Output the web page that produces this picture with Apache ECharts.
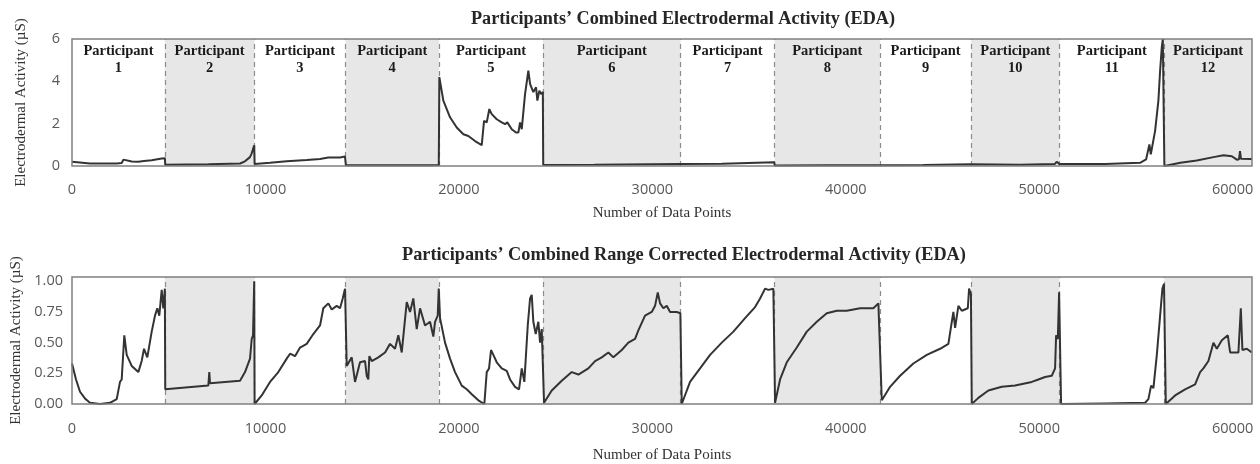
<!DOCTYPE html>
<html><head><meta charset="utf-8">
<script src="https://cdn.jsdelivr.net/npm/echarts@6/dist/echarts.min.js"></script>
<style>html,body{margin:0;padding:0;background:#fff}#c{width:1260px;height:464px}</style>
</head><body><div id="c"></div>
<script>
// ---------- DATA ----------
const boundaries = [0, 4800, 9430, 14140, 18970, 24350, 31460, 36320, 41770, 46480, 51050, 56460, 61000];
const participantLabels = ['1','2','3','4','5','6','7','8','9','10','11','12'];
const xTicks = [0, 10000, 20000, 30000, 40000, 50000, 60000];
const topYTicks = [0, 2, 4, 6];
const bottomYTicks = [0, 0.25, 0.5, 0.75, 1];
const topTitle = 'Participants\u2019 Combined Electrodermal Activity (EDA)';
const bottomTitle = 'Participants\u2019 Combined Range Corrected Electrodermal Activity (EDA)';
const xName = 'Number of Data Points';
const yName = 'Electrodermal Activity (\u00b5S)';

// Raw EDA (top chart), [data point index, µS]
const topP1 = [[0,0.2],[930,0.12],[2310,0.12],[2570,0.14],[2660,0.3],[2760,0.24],[3090,0.21],[3430,0.2],[3720,0.24],[4120,0.27],[4640,0.35],[4800,0.37]];
const topP2 = [[4820,0.06],[7050,0.08],[7100,0.15],[7140,0.09],[8690,0.12],[8940,0.22],[9200,0.42],[9290,0.6],[9360,0.65],[9420,0.98]];
const topP3 = [[9440,0.1],[10240,0.15],[11100,0.22],[12130,0.28],[12820,0.33],[13250,0.4],[13860,0.4],[14110,0.45]];
const topP4 = [[14160,0.04],[15500,0.03],[17000,0.04],[18500,0.04],[18960,0.05]];
const topP5 = [[18990,4.2],[19196,3.09],[19543,2.3],[19889,1.82],[20230,1.5],[20489,1.42],[20835,1.18],[21181,0.99],[21300,2.13],[21440,2.06],[21574,2.69],[21698,2.45],[21957,2.21],[22215,2.06],[22386,1.98],[22505,2.06],[22732,1.74],[22955,1.58],[23074,1.58],[23162,2.06],[23250,1.74],[23420,3.4],[23591,4.51],[23679,3.88],[23849,3.49],[23989,3.72],[24056,3.09],[24160,3.56],[24248,3.4],[24340,3.5]];
const topP6 = [[24360,0.05],[27000,0.06],[31450,0.1]];
const topP7 = [[31470,0.06],[33600,0.11],[36300,0.18]];
const topP8 = [[36330,0.02],[39000,0.03],[41760,0.04]];
const topP9 = [[41780,0.03],[44000,0.05],[46470,0.08]];
const topP10 = [[46490,0.04],[49000,0.06],[50800,0.09],[50900,0.2],[51000,0.23],[51040,0.1]];
const topP11 = [[51060,0.08],[53400,0.09],[55215,0.15],[55525,0.31],[55696,1.02],[55768,0.55],[55991,1.66],[56161,3.09],[56250,4.51],[56338,5.63],[56390,6.0],[56450,6.0]];
const topP12 = [[56470,0.0],[57300,0.15],[58146,0.26],[59006,0.42],[59523,0.51],[59957,0.46],[60215,0.3],[60330,0.32],[60380,0.7],[60430,0.34],[60903,0.33],[61000,0.33]];

// Range corrected EDA (bottom chart)
const botP1 = [[0,0.33],[207,0.2],[414,0.1],[698,0.04],[931,0.01],[1448,0.0],[1965,0.01],[2311,0.04],[2482,0.18],[2569,0.2],[2704,0.56],[2828,0.4],[3086,0.31],[3428,0.26],[3603,0.35],[3722,0.45],[3893,0.38],[4120,0.59],[4291,0.72],[4410,0.78],[4513,0.72],[4637,0.93],[4720,0.78],[4800,0.94]];
const botP2 = [[4820,0.12],[7047,0.15],[7098,0.26],[7135,0.17],[7910,0.18],[8686,0.19],[8944,0.26],[9203,0.37],[9290,0.53],[9358,0.56],[9420,1.0]];
const botP3 = [[9440,0.0],[9807,0.07],[10237,0.18],[10666,0.26],[11100,0.37],[11271,0.41],[11529,0.39],[11788,0.46],[12134,0.49],[12475,0.57],[12822,0.64],[12992,0.78],[13251,0.82],[13426,0.77],[13685,0.8],[13856,0.78],[13995,0.86],[14114,0.94]];
const botP4 = [[14202,0.31],[14460,0.38],[14631,0.18],[14890,0.34],[15148,0.35],[15236,0.23],[15318,0.2],[15370,0.39],[15494,0.35],[15836,0.38],[16182,0.42],[16441,0.49],[16699,0.45],[16870,0.56],[17046,0.42],[17304,0.83],[17475,0.75],[17645,0.86],[17821,0.61],[17992,0.78],[18250,0.64],[18509,0.67],[18679,0.55],[18767,0.67],[18906,0.72],[18960,0.94]];
const botP5 = [[19026,0.7],[19284,0.5],[19543,0.37],[19801,0.26],[20148,0.15],[20406,0.12],[20665,0.08],[21006,0.03],[21316,0.0],[21440,0.26],[21559,0.29],[21662,0.44],[21781,0.4],[21957,0.34],[22215,0.29],[22474,0.27],[22645,0.2],[22903,0.14],[23110,0.12],[23250,0.29],[23384,0.18],[23560,0.64],[23679,0.86],[23766,0.89],[23849,0.67],[23973,0.57],[24108,0.67],[24196,0.5],[24283,0.61],[24340,0.61]];
const botP6 = [[24402,0.01],[24800,0.11],[25317,0.19],[25834,0.26],[26176,0.24],[26693,0.29],[27039,0.35],[27385,0.38],[27727,0.42],[27986,0.38],[28420,0.44],[28761,0.5],[29107,0.53],[29278,0.6],[29624,0.72],[29970,0.75],[30141,0.8],[30281,0.91],[30400,0.82],[30571,0.78],[30745,0.8],[30917,0.75],[31263,0.75],[31450,0.74]];
const botP7 = [[31521,0.0],[31950,0.18],[32468,0.29],[32985,0.4],[33590,0.5],[34190,0.59],[34794,0.7],[35311,0.79],[35570,0.86],[35828,0.94],[35999,0.93],[36257,0.94]];
const botP8 = [[36345,0.01],[36604,0.2],[36950,0.34],[37467,0.46],[37984,0.59],[38501,0.67],[39018,0.74],[39535,0.76],[40052,0.76],[40740,0.78],[41427,0.78],[41686,0.82]];
const botP9 = [[41862,0.03],[42291,0.14],[42808,0.23],[43495,0.33],[44188,0.4],[44876,0.45],[45305,0.49],[45480,0.67],[45563,0.75],[45651,0.62],[45822,0.8],[45998,0.76],[46308,0.78],[46375,0.94],[46470,0.89]];
const botP10 = [[46514,0.0],[46855,0.05],[47372,0.11],[48065,0.14],[48753,0.15],[49616,0.18],[49958,0.2],[50304,0.22],[50650,0.23],[50821,0.29],[50873,0.56],[50961,0.53],[51028,0.91]];
const botP11 = [[51131,0.0],[53406,0.005],[55474,0.01],[55645,0.04],[55785,0.15],[55904,0.13],[56080,0.4],[56250,0.72],[56369,0.94],[56450,0.98]];
const botP12 = [[56544,0.0],[57025,0.07],[57542,0.12],[58059,0.16],[58318,0.26],[58488,0.29],[58747,0.35],[59006,0.5],[59182,0.45],[59440,0.52],[59750,0.56],[59869,0.42],[60298,0.42],[60422,0.78],[60505,0.44],[60732,0.45],[60991,0.42]];

const topSeries = [].concat(topP1, topP2, topP3, topP4, topP5, topP6, topP7, topP8, topP9, topP10, topP11, topP12);
const bottomSeries = [].concat(botP1, botP2, botP3, botP4, botP5, botP6, botP7, botP8, botP9, botP10, botP11, botP12);

// ---------- STYLE ----------
const SERIF = '"Liberation Serif", "Times New Roman", serif';
const SANS = '"Open Sans", "Noto Sans", sans-serif';
const SHADE = '#e7e7e7';

function areas(withLabels) {
  return {
    silent: true,
    label: withLabels ? {
      show: true, position: 'insideTop', distance: 4,
      fontFamily: SERIF, fontWeight: 'bold', fontSize: 14.5, lineHeight: 17,
      color: '#1a1a1a', align: 'center'
    } : { show: false },
    data: participantLabels.map((p, i) => [
      { xAxis: boundaries[i], name: 'Participant\n' + p,
        itemStyle: { color: i % 2 ? SHADE : 'rgba(0,0,0,0)' } },
      { xAxis: boundaries[i + 1] }
    ])
  };
}
function lines() {
  return {
    silent: true, symbol: 'none', label: { show: false },
    lineStyle: { type: [5, 4], color: '#8c8c8c', width: 1.2 },
    data: boundaries.slice(1, -1).map(b => ({ xAxis: b }))
  };
}
function xAxisCfg(gi, labelMargin, nameGap) {
  return {
    gridIndex: gi, type: 'value', min: 0, max: 61000, interval: 10000,
    axisLine: { show: false }, axisTick: { show: false }, splitLine: { show: false },
    axisLabel: {
      margin: labelMargin, fontFamily: SANS, fontSize: 14.5, color: '#595959',
      showMaxLabel: false,
      formatter: v => xTicks.indexOf(v) >= 0 ? String(v) : ''
    },
    name: xName, nameLocation: 'middle', nameGap: nameGap,
    nameTextStyle: { fontFamily: SERIF, fontSize: 15, color: '#333' }
  };
}
function yAxisCfg(gi, min, max, interval, ticks, digits, labelMargin) {
  return {
    gridIndex: gi, type: 'value', min: min, max: max, interval: interval,
    axisLine: { show: false }, axisTick: { show: false }, splitLine: { show: false },
    axisLabel: {
      margin: labelMargin, fontFamily: SANS, fontSize: 14.5, color: '#595959',
      showMaxLabel: digits === 0,
      formatter: v => ticks.some(t => Math.abs(t - v) < 1e-9) ? v.toFixed(digits) : ''
    },
    name: yName, nameLocation: 'middle', nameGap: 43, nameRotate: 90,
    nameTextStyle: { fontFamily: SERIF, fontSize: 15, color: '#333' }
  };
}

const chart = echarts.init(document.getElementById('c'), null, { renderer: 'canvas' });
chart.setOption({
  animation: false,
  backgroundColor: '#ffffff',
  title: [
    { text: topTitle, left: 471, top: 10, padding: 0,
      textStyle: { fontFamily: SERIF, fontWeight: 'bold', fontSize: 18.2, color: '#262626' } },
    { text: bottomTitle, left: 402, top: 246, padding: 0,
      textStyle: { fontFamily: SERIF, fontWeight: 'bold', fontSize: 18.3, color: '#262626' } }
  ],
  grid: [
    { left: 72, width: 1180, top: 39, height: 127, show: true, z: 10,
      backgroundColor: 'rgba(0,0,0,0)', borderColor: '#808080', borderWidth: 1.5 },
    { left: 72, width: 1180, top: 277, height: 127, show: true, z: 10,
      backgroundColor: 'rgba(0,0,0,0)', borderColor: '#808080', borderWidth: 1.5 }
  ],
  xAxis: [xAxisCfg(0, 16, 40), xAxisCfg(1, 17, 44)],
  yAxis: [
    yAxisCfg(0, 0, 6, 2, topYTicks, 0, 12),
    yAxisCfg(1, 0, 1.035, 0.25, bottomYTicks, 2, 9)
  ],
  series: [
    { type: 'line', xAxisIndex: 0, yAxisIndex: 0, data: [], z: 1,
      markArea: areas(true), markLine: lines() },
    { type: 'line', xAxisIndex: 1, yAxisIndex: 1, data: [], z: 1,
      markArea: areas(false), markLine: lines() },
    { type: 'line', xAxisIndex: 0, yAxisIndex: 0, data: topSeries, z: 5,
      showSymbol: false, silent: true, lineStyle: { color: '#333', width: 2 } },
    { type: 'line', xAxisIndex: 1, yAxisIndex: 1, data: bottomSeries, z: 5,
      showSymbol: false, silent: true, lineStyle: { color: '#333', width: 2 } }
  ]
});
</script></body></html>
